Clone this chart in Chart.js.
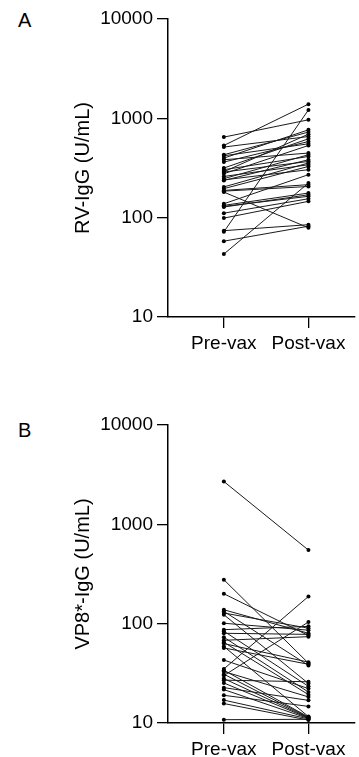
<!DOCTYPE html>
<html lang="en">
<head>
  <meta charset="UTF-8" />
  <title>RV-IgG and VP8*-IgG, pre/post vaccination</title>
  <script src="https://cdn.jsdelivr.net/npm/chart.js"></script>
  <style>
    body {
      margin: 0;
      width: 359px;
      height: 757px;
      overflow: hidden;
      background: #fff;
      font-family: 'Liberation Sans', Arial, sans-serif;
      position: relative;
    }
    .panel {
      position: absolute;
      left: 0;
      width: 359px;
      height: 370px;
    }
    .label {
      position: absolute;
      left: 18px;
      font-size: 20px;
      line-height: 20px;
      color: #000;
    }
  </style>
</head>
<body>
  <div class="label" style="top: 10px;">A</div>
  <div class="panel" style="top: 0;"><canvas id="chartA" width="359" height="370"></canvas></div>

  <div class="label" style="top: 420px;">B</div>
  <div class="panel" style="top: 406px;"><canvas id="chartB" width="359" height="370"></canvas></div>

  <script>
    const categories = ['Pre-vax', 'Post-vax'];
    const yTicks = [10, 100, 1000, 10000];

    // panel A: RV-IgG, one entry per subject (same order in both arrays)
    const rvPre = [647, 533, 514, 430, 420, 398, 383, 363, 316, 304, 290, 288, 277, 260, 247, 240,
                   237, 204, 196, 188, 185, 181, 138, 133, 130, 128, 111, 99, 74, 72, 58, 43];
    const rvPost = [966, 1390, 656, 727, 554, 766, 447, 584, 622, 413, 693, 368, 533, 341, 430, 304,
                    383, 355, 328, 215, 206, 79, 271, 177, 164, 170, 155, 146, 85, 1216, 82, 223];

    // panel B: VP8*-IgG
    const vpPre = [2700, 277, 200, 138, 133, 128, 123, 101, 87, 84, 80, 73, 68, 65, 63, 59,
                   57, 43, 35, 34, 33, 31, 30, 28, 27, 25.3, 22.7, 21.7, 19, 17, 15.7, 10.8];
    const vpPost = [550, 40, 76, 80, 38, 90, 25, 86, 94, 23.4, 78, 20.5, 74, 19.3, 41, 11.6,
                    39, 22.2, 188, 11.5, 18.3, 11.4, 104, 11.3, 26, 11.2, 16.9, 11.1, 14.7, 11.0, 10.7, 10.9];

    Chart.defaults.font.family = "'Liberation Sans', Arial, sans-serif";
    Chart.defaults.color = '#000';

    function pairedChart(id, pre, post, yTitle) {
      const datasets = pre.map((v, i) => ({
        data: [{ x: 0, y: v }, { x: 1, y: post[i] }],
        borderColor: '#1a1a1a',
        borderWidth: 1,
        pointRadius: 2,
        pointBackgroundColor: '#000',
        pointBorderWidth: 0,
        fill: false
      }));

      return new Chart(document.getElementById(id), {
        type: 'line',
        data: { datasets },
        options: {
          responsive: false,
          animation: false,
          layout: { padding: { left: 67, top: 19, right: 1, bottom: 0 } },
          plugins: { legend: { display: false }, tooltip: { enabled: false } },
          scales: {
            x: {
              type: 'linear',
              min: -0.66,
              max: 1.55,
              afterBuildTicks: s => { s.ticks = [{ value: 0 }, { value: 1 }]; },
              afterFit: s => { s.height = 53; },
              ticks: {
                callback: v => categories[v],
                font: { size: 19 },
                color: '#000',
                padding: 4,
                maxRotation: 0
              },
              grid: { drawOnChartArea: false, drawTicks: true, tickLength: 11, color: '#000', lineWidth: 1.3 },
              border: { color: '#000', width: 1.5 }
            },
            y: {
              type: 'logarithmic',
              min: 10,
              max: 10000,
              afterBuildTicks: s => { s.ticks = yTicks.map(v => ({ value: v })); },
              afterFit: s => { s.width = 101; },
              ticks: {
                callback: v => String(v),
                font: { size: 19 },
                color: '#000',
                padding: 4
              },
              title: {
                display: true,
                text: yTitle,
                font: { size: 20 },
                color: '#000',
                padding: { top: 4, bottom: 4 }
              },
              grid: { drawOnChartArea: false, drawTicks: true, tickLength: 11, color: '#000', lineWidth: 1.3 },
              border: { color: '#000', width: 1.5 }
            }
          }
        }
      });
    }

    pairedChart('chartA', rvPre, rvPost, 'RV-IgG (U/mL)');
    pairedChart('chartB', vpPre, vpPost, 'VP8*-IgG (U/mL)');
  </script>
</body>
</html>
